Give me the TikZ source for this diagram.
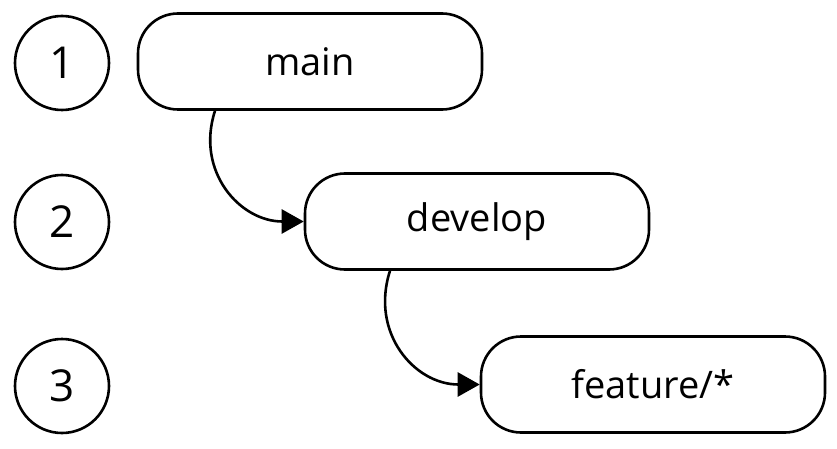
\documentclass[tikz,border=0pt]{standalone}
\usepackage{fontspec}
\setmainfont{Open Sans}
\usetikzlibrary{arrows.meta}
\begin{document}
\begin{tikzpicture}[x=1pt,y=-1pt,
  level/.style={draw,circle,line width=2.6pt,minimum size=94pt,inner sep=0pt,font=\fontsize{44}{48}\selectfont},
  branch/.style={draw,rectangle,rounded corners=40pt,line width=2.6pt,minimum width=344pt,minimum height=96pt,inner sep=0pt,font=\fontsize{38}{44}\selectfont},
  flow/.style={line width=2.6pt,-{Triangle[length=22pt,width=24pt]}}]
\useasboundingbox (0,0) rectangle (837,449);
\node[level] (l1) at (62,63) {1};
\node[level] (l2) at (62,222) {2};
\node[level] (l3) at (62,386) {3};
\node[branch] (main) at (310,61.5) {main};
\node[branch] (dev) at (477,221.5) {develop};
\node[branch] (feat) at (653,384.5) {feature/*};
\draw[flow] (main.south -| 215,0) to[out=252,in=180,looseness=1.15] (dev.west);
\draw[flow] (dev.south -| 390,0) to[out=252,in=180,looseness=1.15] (feat.west);
\end{tikzpicture}
\end{document}
